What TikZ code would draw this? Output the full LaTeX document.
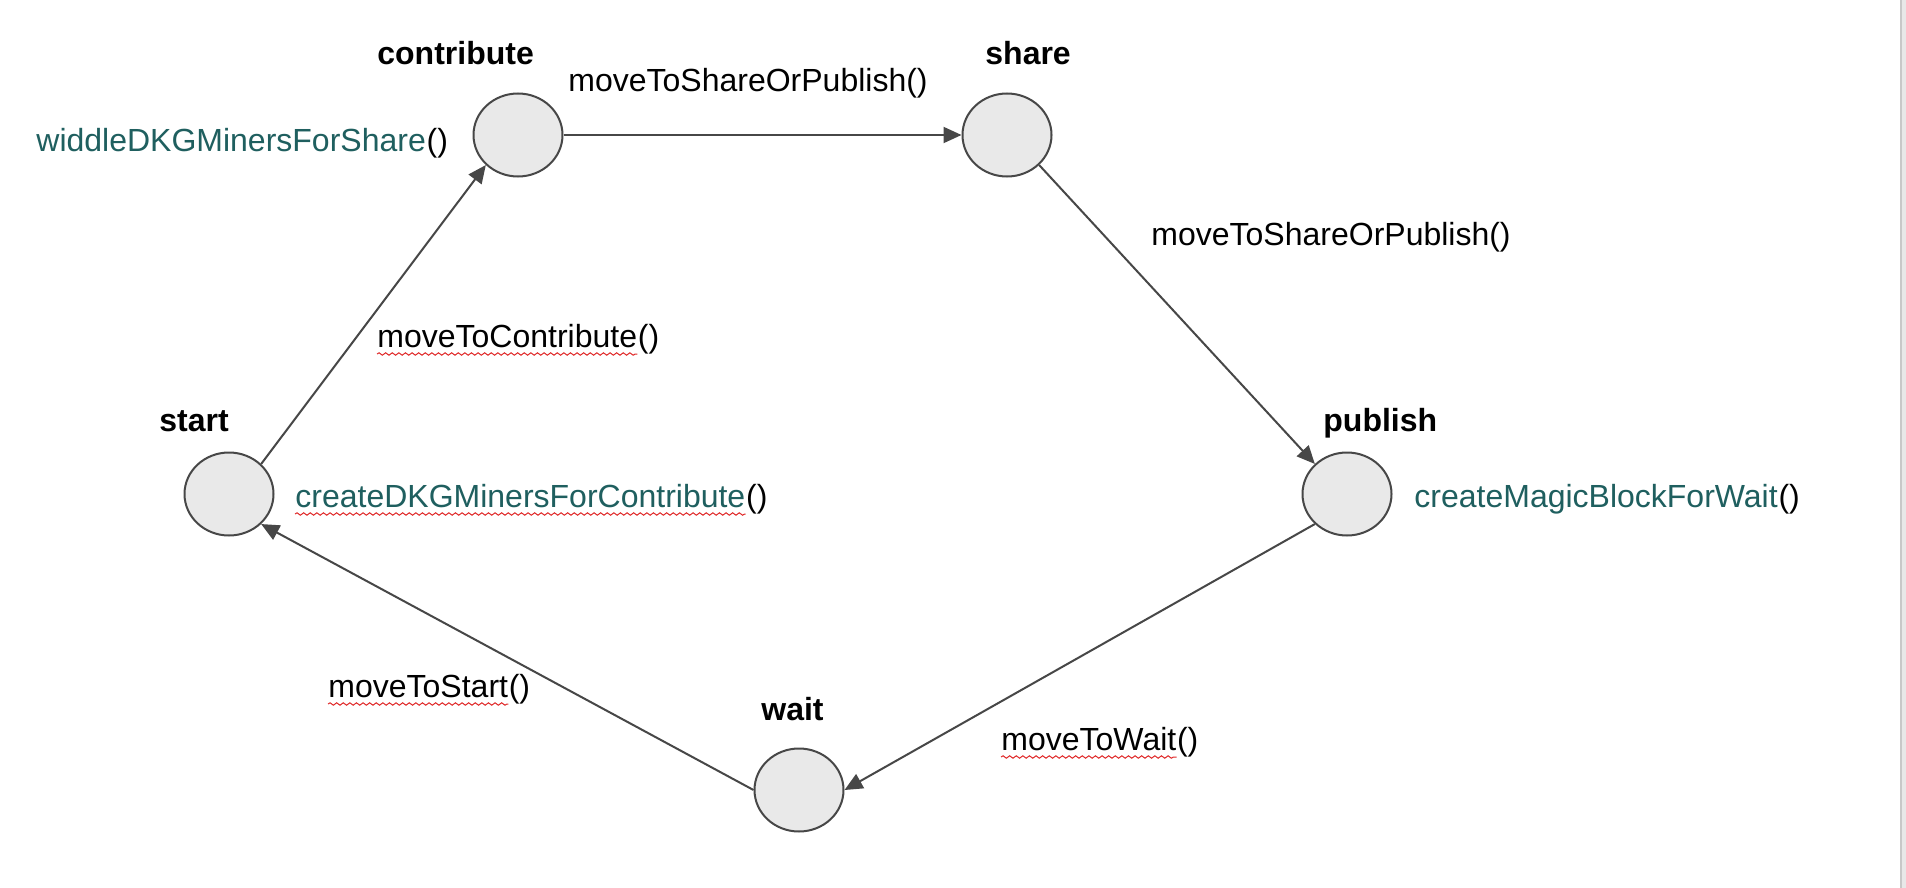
\documentclass[tikz,border=0pt]{standalone}
\usepackage{fontspec}
\setmainfont{Liberation Sans}
\usetikzlibrary{shapes.geometric, arrows.meta, decorations.pathmorphing}
\definecolor{edgegray}{HTML}{474747}
\definecolor{statefill}{HTML}{E9E9E9}
\definecolor{fungreen}{HTML}{1F5F5F}
\definecolor{spellred}{HTML}{E02828}
\definecolor{bargray}{HTML}{C8C8C8}
\definecolor{barlight}{HTML}{E8E8E8}
\tikzset{
    x=0.5pt, y=-0.5pt,
    every node/.style={font=\fontsize{16}{19}\selectfont, inner sep=0pt},
    stateblob/.style={ellipse, draw=edgegray, fill=statefill, line width=1pt,
        minimum width=44.5pt, minimum height=41.5pt},
    statename/.style={anchor=base west, font=\fontsize{16}{19}\selectfont\bfseries},
    call/.style={anchor=base west},
    fun/.style={anchor=base west, text=fungreen},
    flow/.style={color=edgegray, line width=1pt, -{Triangle[length=9pt,width=8pt]}},
    squiggle/.style={draw=spellred, line width=0.5pt, decorate,
        decoration={snake, segment length=3.3pt, amplitude=0.6pt}},
}

\begin{document}
\begin{tikzpicture}
    \useasboundingbox (0,0) rectangle (1906,888);
    \fill[white] (0,0) rectangle (1906,888);
    \fill[bargray] (1900,0) rectangle (1902,888);
    \fill[barlight] (1902,0) rectangle (1906,888);

        % states
        \node[stateblob] (start) at (229,494) {};
        \node[stateblob] (contribute) at (518,135) {};
        \node[stateblob] (share) at (1007,135) {};
        \node[stateblob] (publish) at (1347,494) {};
        \node[stateblob] (wait) at (799,790) {};

        \node[statename] (startName) at (159,431) {start};
        \node[statename] (contributeName) at (377,65) {contribute};
        \node[statename] (shareName) at (985,65) {share};
        \node[statename] (publishName) at (1323,431) {publish};
        \node[statename] (waitName) at (761,720) {wait};

        % transition calls
        \node[call] (toSop) at (568,92) {moveToShareOrPublish()};
        \node[call] (toSopB) at (1151,245) {moveToShareOrPublish()};
        \node[call] (toContribute) at (377,347) {moveToContribute};
        \node[call] (toContributeP) at (toContribute.base east) {()};
        \node[call] (toStart) at (328,697) {moveToStart};
        \node[call] (toStartP) at (toStart.base east) {()};
        \node[call] (toWait) at (1001,750) {moveToWait};
        \node[call] (toWaitP) at (toWait.base east) {()};

        % state functions
        \node[fun] (widdle) at (36,152) {widdleDKGMinersForShare};
        \node[call] (widdleP) at (widdle.base east) {()};
        \node[fun] (createDkg) at (295,507) {createDKGMinersForContribute};
        \node[call] (createDkgP) at (createDkg.base east) {()};
        \node[fun] (createMb) at (1414,507) {createMagicBlockForWait};
        \node[call] (createMbP) at (createMb.base east) {()};

    \path[flow]
        (start.north east) edge (contribute.south west)
        (contribute.east) edge (share.west)
        (share.south east) edge (publish.north west)
        (publish.south west) edge (wait.east)
        (wait.west) edge (start.south east);

    % spell check marks
    \draw[squiggle] ([yshift=-3.5pt]toContribute.base west) -- ([yshift=-3.5pt]toContribute.base east);
    \draw[squiggle] ([yshift=-3.5pt]toStart.base west) -- ([yshift=-3.5pt]toStart.base east);
    \draw[squiggle] ([yshift=-3.5pt]toWait.base west) -- ([yshift=-3.5pt]toWait.base east);
    \draw[squiggle] ([yshift=-3.5pt]createDkg.base west) -- ([yshift=-3.5pt]createDkg.base east);
\end{tikzpicture}
\end{document}
